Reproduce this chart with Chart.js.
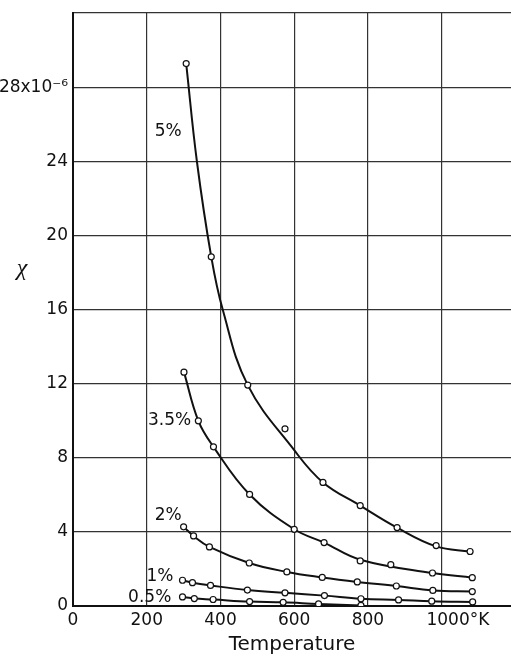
<!DOCTYPE html>
<html><head><meta charset="utf-8">
<script src="https://cdn.jsdelivr.net/npm/chart.js@4"></script>
<style>html,body{margin:0;padding:0;background:#fff}#wrap{width:511px;height:660px}</style>
</head><body><div id="wrap"><canvas id="c" width="511" height="660"></canvas></div>
<script>
// ---- data ----
const xTicks = [0, 200, 400, 600, 800, 1000];
const xTickLabels = ['0', '200', '400', '600', '800', '      1000°K'];
const yTicks = [0, 4, 8, 12, 16, 20, 24, 28, 32];
const yTickLabels = ['0', '4', '8', '12', '16', '20', '24', '28x10⁻⁶', ''];

const seriesNames = ['5%', '3.5%', '2%', '1%', '0.5%'];

const temp5 = [307, 375, 474, 575, 678, 779, 879, 985, 1077];
const chi5  = [29.27, 18.84, 11.92, 9.56, 6.67, 5.42, 4.23, 3.26, 2.94];
const curveTemp5 = [307, 336, 375, 406, 474, 600, 678, 779, 879, 985, 1077];
const curveChi5  = [29.27, 24, 18.84, 16, 11.92, 8.41, 6.67, 5.42, 4.23, 3.22, 2.94];

const temp35 = [301, 340, 381, 479, 600, 681, 779, 862, 975, 1083];
const chi35  = [12.62, 9.99, 8.59, 6.02, 4.14, 3.42, 2.43, 2.23, 1.78, 1.53];
const curveTemp35 = [301, 340, 381, 479, 600, 681, 779, 975, 1083];
const curveChi35  = [12.62, 9.99, 8.59, 6.02, 4.14, 3.42, 2.50, 1.78, 1.53];

const temp2 = [300, 327, 370, 478, 580, 676, 771, 877, 976, 1083];
const chi2  = [4.27, 3.78, 3.19, 2.32, 1.84, 1.54, 1.30, 1.08, 0.84, 0.78];

const temp1 = [297, 324, 373, 473, 575, 682, 781, 883, 973, 1084];
const chi1  = [1.39, 1.26, 1.11, 0.86, 0.71, 0.56, 0.39, 0.33, 0.26, 0.22];

const temp05 = [297, 329, 380, 479, 570, 666, 781];
const chi05  = [0.49, 0.40, 0.35, 0.24, 0.20, 0.11, 0.03];

// ---- build datasets ----
const pts = (xs, ys) => xs.map((x, i) => ({x, y: ys[i]}));
const markerSets = [[temp5, chi5], [temp35, chi35], [temp2, chi2], [temp1, chi1], [temp05, chi05]];
const curveSets  = [[curveTemp5, curveChi5], [curveTemp35, curveChi35], [temp2, chi2], [temp1, chi1], [temp05, chi05]];

const datasets = [];
curveSets.forEach(([xs, ys], i) => datasets.push({
  label: seriesNames[i] + ' curve', data: pts(xs, ys), showLine: true,
  borderColor: '#111', borderWidth: 2, pointRadius: 0, tension: 0.4, order: 2
}));
markerSets.forEach(([xs, ys], i) => datasets.push({
  label: seriesNames[i], data: pts(xs, ys), showLine: false,
  pointRadius: 3, pointBackgroundColor: '#fff', pointBorderColor: '#111', pointBorderWidth: 1.2, order: 1
}));

// annotation anchors (data coordinates) for series names
const nameAnchors = [[258, 25.6], [262, 9.98], [258, 4.9], [236, 1.6], [208, 0.47]];

const textPlugin = {
  id: 'texts',
  afterDatasetsDraw(chart) {
    const {ctx, scales: {x, y}} = chart;
    ctx.save();
    ctx.fillStyle = '#111';
    ctx.textAlign = 'center';
    ctx.textBaseline = 'middle';
    ctx.font = '17px "DejaVu Sans"';
    seriesNames.forEach((n, i) => {
      ctx.fillText(n, x.getPixelForValue(nameAnchors[i][0]), y.getPixelForValue(nameAnchors[i][1]));
    });
    ctx.font = 'italic 24px "Liberation Serif"';
    ctx.fillText('χ', 22, 269);
    ctx.restore();
  }
};

new Chart(document.getElementById('c'), {
  type: 'scatter',
  data: {datasets},
  plugins: [textPlugin],
  options: {
    responsive: false, animation: false,
    layout: {autoPadding: false, padding: {top: 13, right: 0, bottom: 0, left: 0}},
    plugins: {legend: {display: false}, tooltip: {enabled: false}},
    scales: {
      x: {
        type: 'linear', min: 0, max: 1188,
        afterBuildTicks: s => { s.ticks = xTicks.map(v => ({value: v})); },
        afterFit: s => { s.height = 54; s.paddingRight = 0; s.paddingLeft = 0; },
        ticks: {
          color: '#111', font: {family: 'DejaVu Sans', size: 17}, padding: 4, maxRotation: 0, autoSkip: false,
          callback: (v) => xTickLabels[xTicks.indexOf(v)]
        },
        grid: {color: '#333', lineWidth: 1.2, drawTicks: false},
        border: {color: '#111', width: 2},
        title: {display: true, text: 'Temperature', color: '#111', font: {family: 'DejaVu Sans', size: 20}, padding: {top: 0, bottom: 3}}
      },
      y: {
        type: 'linear', min: 0, max: 32,
        afterBuildTicks: s => { s.ticks = yTicks.map(v => ({value: v})); },
        afterFit: s => { s.width = 73; s.paddingTop = 0; s.paddingBottom = 0; },
        ticks: {
          color: '#111', font: {family: 'DejaVu Sans', size: 17}, padding: 5, autoSkip: false,
          callback: (v) => yTickLabels[yTicks.indexOf(v)]
        },
        grid: {color: '#333', lineWidth: 1.2, drawTicks: false},
        border: {color: '#111', width: 2}
      }
    }
  }
});
</script>
</body></html>
